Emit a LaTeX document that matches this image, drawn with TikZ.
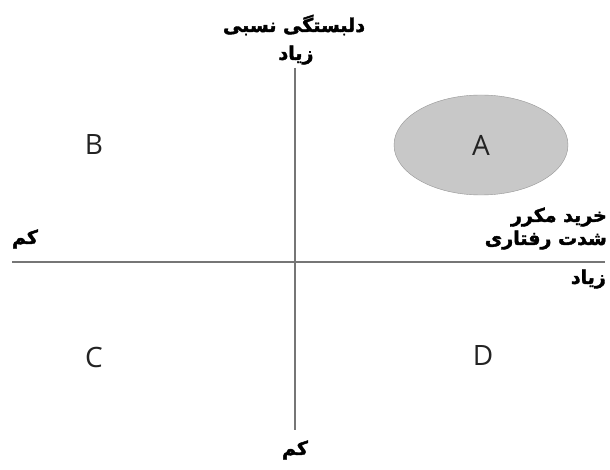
\documentclass[tikz,border=0pt]{standalone}
\usepackage{fontspec}
\setmainfont{Open Sans}
\newfontfamily\arabicfont[Script=Arabic,BoldFeatures={FakeBold=2}]{DejaVu Sans}
\TeXXeTstate=1
\usepackage{tikz}
\usetikzlibrary{positioning,shapes.geometric}
\definecolor{axisgrey}{RGB}{118,118,118}
\definecolor{blobgrey}{RGB}{200,200,200}
\definecolor{blobedge}{RGB}{150,150,150}
\definecolor{lettergrey}{RGB}{35,35,35}
\tikzset{
  axisline/.style={draw=axisgrey,line width=2pt},
  quadlabel/.style={font=\fontsize{28}{32}\selectfont,text=lettergrey,inner sep=0pt},
  blob/.style={ellipse,draw=blobedge,fill=blobgrey,minimum width=174pt,
    minimum height=100pt,inner sep=0pt},
  farsilabel/.style={font=\arabicfont\bfseries\fontsize{19}{22}\selectfont,inner sep=0pt}
}

\begin{document}
\begin{tikzpicture}[x=1pt,y=-1pt]
  \useasboundingbox[fill=white] (0,0) rectangle (610,470);
  % axes
  \coordinate (ytop) at (295,68);
  \coordinate (ybot) at (295,430);
  \coordinate (xleft) at (12,262);
  \coordinate (xright) at (605,262);
  \draw[axisline] (xleft) -- (xright);
  \draw[axisline] (ytop) -- (ybot);
  % quadrants
  \node[blob] (quadA) at (481,145) {};
  \node[quadlabel] (labA) at (quadA) {A};
  \node[quadlabel] (labB) at (94,145) {B};
  \node[quadlabel] (labC) at (94,357) {C};
  \node[quadlabel] (labD) at (483,356) {D};
  % axis texts
  \node[farsilabel] (ytitle) at (294,25) {\beginR دلبستگی نسبی\endR};
  \node[farsilabel] (yhigh) at (296,55) {\beginR زیاد\endR};
  \node[farsilabel] (ylow) at (295,450) {\beginR کم\endR};
  \node[farsilabel,anchor=east] (xtitle1) at (607,217) {\beginR خرید مکرر\endR};
  \node[farsilabel,anchor=east] (xtitle2) at (607,240) {\beginR شدت رفتاری\endR};
  \node[farsilabel,anchor=east] (xhigh) at (606,279) {\beginR زیاد\endR};
  \node[farsilabel] (xlow) at (25,239) {\beginR کم\endR};
\end{tikzpicture}
\end{document}
